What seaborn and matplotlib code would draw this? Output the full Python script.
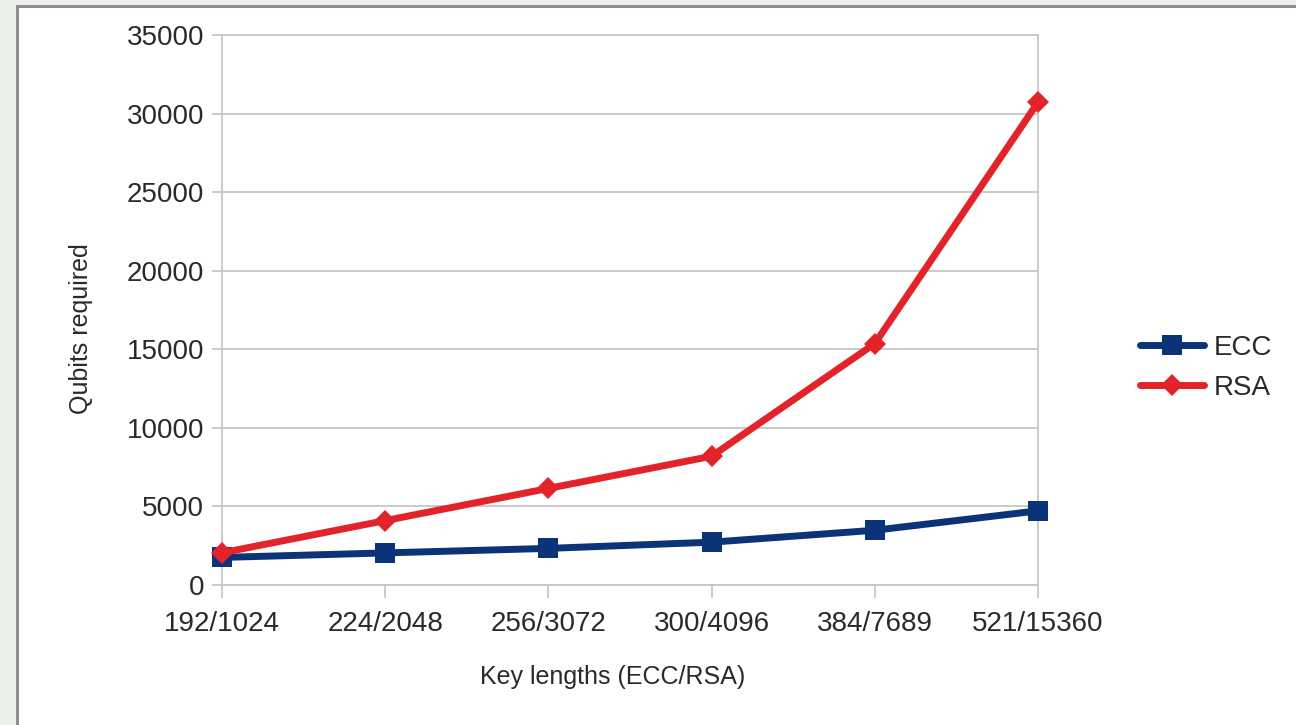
import numpy as np
import pandas as pd
import matplotlib
matplotlib.use("Agg")
import matplotlib.pyplot as plt
from matplotlib.patches import Rectangle
import seaborn as sns

# ── Veri ─────────────────────────────────────────────────────────────────────
anahtar = ["192/1024", "224/2048", "256/3072", "300/4096", "384/7689", "521/15360"]
ecc = [1754, 2042, 2330, 2726, 3484, 4719]
rsa = [2050, 4098, 6146, 8194, 15362, 30722]
y_ticks = [0, 5000, 10000, 15000, 20000, 25000, 30000, 35000]

df = pd.DataFrame({"anahtar": anahtar, "ECC": ecc, "RSA": rsa})
df["x"] = np.arange(len(anahtar))

sns.set_style("white")
plt.rcParams["font.family"] = ["Liberation Sans", "DejaVu Sans"]

ecc_renk = "#0b3478"
rsa_renk = "#e3232a"
grid_renk = "#c6c6c6"
yazi_renk = "#2a2a2a"

fig = plt.figure(figsize=(12.96, 7.25), dpi=100, facecolor="#ebf0eb")
# beyaz panel + gri çerçeve (eksenlerin arkasında)
fig.patches.append(Rectangle((17 / 1296, -0.01), 1.1, 1 - 6 / 725 + 0.01,
                             transform=fig.transFigure, facecolor="white",
                             edgecolor="#8f8f8f", linewidth=2.2, zorder=-10))

ax = fig.add_axes([222 / 1296, 1 - 585 / 725, (1038 - 222) / 1296, (585 - 35) / 725])
ax.set_zorder(5)
ax.set_facecolor("white")

sns.lineplot(data=df, x="x", y="ECC", ax=ax, color=ecc_renk, lw=5,
             marker="s", markersize=14.5, markeredgewidth=0, label="ECC",
             clip_on=False, zorder=3)
sns.lineplot(data=df, x="x", y="RSA", ax=ax, color=rsa_renk, lw=5,
             marker="D", markersize=11, markeredgewidth=0, label="RSA",
             clip_on=False, zorder=4)

ax.set_xlim(0, len(anahtar) - 1)
ax.set_ylim(0, 35000)
ax.set_xticks(df["x"])
ax.set_xticklabels(anahtar)
ax.set_yticks(y_ticks)
ax.set_yticklabels([str(t) for t in y_ticks])

ax.yaxis.grid(True, color=grid_renk, lw=1.3)
ax.xaxis.grid(False)
for s in ax.spines.values():
    s.set_color(grid_renk)
    s.set_linewidth(1.3)

ax.tick_params(axis="x", length=9, width=1.3, color=grid_renk, pad=10,
               labelsize=20, labelcolor=yazi_renk, bottom=True)
ax.tick_params(axis="y", length=7, width=1.3, color=grid_renk, pad=6,
               labelsize=20, labelcolor=yazi_renk, left=True)

ax.set_xlabel("Key lengths (ECC/RSA)", fontsize=18, color=yazi_renk)
ax.set_ylabel("Qubits required", fontsize=18, color=yazi_renk)
ax.xaxis.set_label_coords(0.479, -0.146)
ax.yaxis.set_label_coords(-0.158, 0.467)

ax.legend(loc="center left", bbox_to_anchor=(1140 / 1296, 1 - 368 / 725),
          bbox_transform=fig.transFigure, frameon=False, fontsize=20,
          handlelength=2.3, handletextpad=0.35, labelspacing=0.5,
          borderpad=0, borderaxespad=0, labelcolor=yazi_renk)

plt.savefig("out.png", dpi=100, facecolor=fig.get_facecolor())
plt.close()
